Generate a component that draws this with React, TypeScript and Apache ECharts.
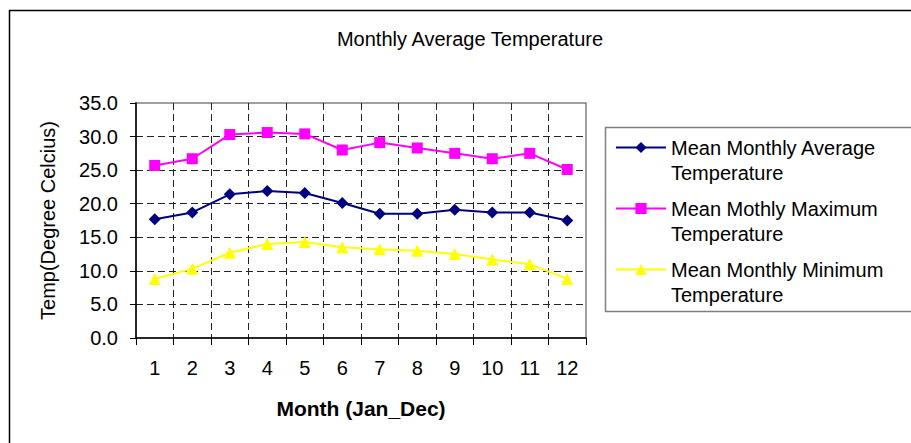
import React, { useEffect, useRef } from "react";
import * as echarts from "echarts";

const months = ["1", "2", "3", "4", "5", "6", "7", "8", "9", "10", "11", "12"];
const meanAverage = [17.7, 18.7, 21.4, 21.9, 21.6, 20.1, 18.5, 18.5, 19.1, 18.7, 18.7, 17.5];
const meanMaximum = [25.7, 26.7, 30.3, 30.6, 30.4, 28.0, 29.1, 28.3, 27.5, 26.7, 27.5, 25.1];
const meanMinimum = [8.8, 10.3, 12.7, 14.0, 14.3, 13.5, 13.2, 13.0, 12.5, 11.7, 11.0, 8.8];
const seriesNames = [
  "Mean Monthly Average Temperature",
  "Mean Mothly Maximum Temperature",
  "Mean Monthly Minimum Temperature",
];
const yTicks = { min: 0, max: 35, interval: 5 };

const FONT = "'Liberation Sans', Arial, sans-serif";

export default function App() {
  const ref = useRef<HTMLDivElement>(null);

  useEffect(() => {
    if (!ref.current) return;
    const chart = echarts.init(ref.current, null, { renderer: "svg" });
    const dashed = { color: "#222", width: 1, type: [7, 4] as number[] };
    chart.setOption({
      animation: false,
      backgroundColor: "#fff",
      textStyle: { fontFamily: FONT, color: "#000" },
      title: {
        text: "Monthly Average Temperature",
        left: 470,
        top: 29,
        textAlign: "center",
        padding: 0,
        textStyle: { fontSize: 20, fontWeight: "normal", color: "#000", fontFamily: FONT },
      },
      graphic: [
        {
          type: "rect",
          silent: true,
          z: -10,
          shape: { x: 9.5, y: 10.5, width: 1000, height: 1000 },
          style: { fill: "none", stroke: "#000", lineWidth: 1.5 },
        },
        {
          type: "rect",
          silent: true,
          shape: { x: 605.5, y: 127.5, width: 400, height: 184 },
          style: { fill: "none", stroke: "#808080", lineWidth: 1.5 },
        },
      ],
      legend: {
        orient: "vertical",
        left: 615,
        top: 110,
        padding: 0,
        itemGap: -14,
        itemWidth: 50,
        itemHeight: 14,
        selectedMode: false,
        data: seriesNames,
        formatter: (name: string) => "\n" + name.replace(" Temperature", "\nTemperature"),
        textStyle: {
          fontSize: 20,
          lineHeight: 25,
          color: "#000",
          fontFamily: FONT,
        },
      },
      grid: {
        left: 136,
        right: 325,
        top: 103,
        bottom: 105,
        containLabel: false,
        outerBoundsMode: "none",
        show: true,
        borderColor: "#808080",
        borderWidth: 1.5,
        backgroundColor: "transparent",
      },
      xAxis: {
        type: "category",
        data: months,
        boundaryGap: true,
        name: "Month (Jan_Dec)",
        nameLocation: "middle",
        nameGap: 60,
        nameTextStyle: { fontSize: 21, fontWeight: "bold", color: "#000", fontFamily: FONT },
        axisLine: { show: true, lineStyle: { color: "#000", width: 1.5 } },
        axisTick: { show: true, interval: 0, length: 7, lineStyle: { color: "#000" } },
        axisLabel: { interval: 0, margin: 20, fontSize: 20, color: "#000", fontFamily: FONT },
        splitLine: {
          show: true,
          interval: 0,
          showMinLine: false,
          showMaxLine: false,
          lineStyle: dashed,
        },
      },
      yAxis: {
        type: "value",
        min: yTicks.min,
        max: yTicks.max,
        interval: yTicks.interval,
        name: "Temp(Degree Celcius)",
        nameLocation: "middle",
        nameRotate: 90,
        nameGap: 78,
        nameTextStyle: { fontSize: 20, color: "#000", fontFamily: FONT },
        axisLine: { show: true, lineStyle: { color: "#000", width: 1.5 } },
        axisTick: { show: true, length: 6, lineStyle: { color: "#000" } },
        axisLabel: {
          margin: 18,
          fontSize: 20,
          color: "#000",
          fontFamily: FONT,
          formatter: (v: number) => v.toFixed(1),
        },
        splitLine: {
          show: true,
          showMinLine: false,
          showMaxLine: false,
          lineStyle: dashed,
        },
      },
      series: [
        {
          type: "line",
          name: seriesNames[0],
          data: meanAverage,
          symbol: "diamond",
          symbolSize: 12,
          lineStyle: { color: "#000080", width: 2 },
          itemStyle: { color: "#000080" },
        },
        {
          type: "line",
          name: seriesNames[1],
          data: meanMaximum,
          symbol: "rect",
          symbolSize: 11,
          lineStyle: { color: "#FF00FF", width: 2 },
          itemStyle: { color: "#FF00FF" },
        },
        {
          type: "line",
          name: seriesNames[2],
          data: meanMinimum,
          symbol: "triangle",
          symbolSize: 12,
          lineStyle: { color: "#FFFF00", width: 2 },
          itemStyle: { color: "#FFFF00" },
        },
      ],
    });
    return () => chart.dispose();
  }, []);

  return (
    <div
      ref={ref}
      style={{ position: "absolute", left: 0, top: 0, width: 911, height: 443 }}
    />
  );
}
